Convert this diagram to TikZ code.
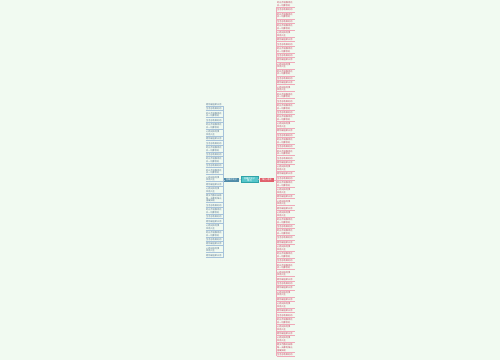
\documentclass[tikz,border=0pt]{standalone}
\usepackage{fontspec}
\setmainfont{Noto Sans CJK SC}
\usetikzlibrary{positioning}

\definecolor{bgmint}{HTML}{F1FAF1}
\definecolor{leafblue}{HTML}{4F6F8C}
\definecolor{lineblue}{HTML}{A6C2DA}
\definecolor{branchblue}{HTML}{4F8BA8}
\definecolor{rootteal}{HTML}{55C6CA}
\definecolor{rootedge}{HTML}{2FA3A8}
\definecolor{branchred}{HTML}{E0606C}
\definecolor{leafred}{HTML}{C23A58}
\definecolor{linepink}{HTML}{F0A8B8}

\newcommand\tinytext{\fontsize{2.2}{2.6}\selectfont}
\newcommand\leaftext[2]{%
  \ifcase#1\or
    \ifodd#2 愿你被温柔以待\else 生活总有美好的\fi
  \or
    \ifodd#2 时光不语静待花\\开一切都会好\else 心若向阳何惧\\风雨人生\fi
  \or
    愿岁月静好安稳\\每一天都有阳光\\温暖如初
  \fi}

\tikzset{
  leafl/.style={anchor=north west, text width=17pt, inner sep=0.4pt,
    align=left, text=leafblue, font=\tinytext},
  leafr/.style={anchor=north west, text width=17pt, inner sep=0.4pt,
    align=left, text=leafred, font=\tinytext},
  underl/.style={draw=lineblue, line width=0.45pt},
  underr/.style={draw=linepink, line width=0.45pt},
  rootbox/.style={fill=rootteal, draw=rootedge, line width=0.3pt,
    text=white, font=\fontsize{2.3}{2.6}\selectfont, align=center,
    minimum width=17pt, minimum height=6pt, inner sep=0.5pt},
  lbranchbox/.style={fill=branchblue, text=white,
    font=\fontsize{2.3}{2.6}\selectfont, minimum width=15pt,
    minimum height=4.5pt, inner sep=0.5pt},
  rbranchbox/.style={fill=branchred, text=white,
    font=\fontsize{2.3}{2.6}\selectfont, minimum width=14pt,
    minimum height=4.5pt, inner sep=0.5pt}
}

\begin{document}
\begin{tikzpicture}[x=1pt,y=-1pt]
    \fill[bgmint] (0,0) rectangle (500,360);
    \useasboundingbox (0,0) rectangle (500,360);

    % centre and the two branches
    \node[rootbox] (root) at (249.5,179.5) {温暖的句子\\精选};
    \node[lbranchbox] (lbranch) at (231.5,180) {温暖的句子};
    \node[rbranchbox] (rbranch) at (267,180) {暖心语录};
    \draw[underl] (root.west) -- (lbranch.east);
    \draw[underr] (root.east) -- (rbranch.west);

    % left leaves
    \xdef\ycur{103}
    \foreach \n [count=\i] in {1,1,2,1,2,2,1,1,2,1,2,1,2,2,1,2,3,1,2,1,1,2,2,1,1,2,1}{
        \node[leafl] (l\i) at (205.5,\ycur) {\leaftext{\n}{\i}};
        \draw[underl] (l\i.south west) -- (l\i.south east);
        \pgfmathsetmacro\ynext{\ycur+2.6*\n+1.8}
        \xdef\ycur{\ynext}
    }
    \draw[underl] (l1.south east) -- (l27.south east);
    \draw[underl] (lbranch.west) -- (lbranch.west -| l1.south east);

    % right leaves
    \xdef\ycur{1.5}
    \foreach \n [count=\i] in {2,1,2,1,2,2,1,1,2,1, 1,2,2,1,1,2,2,1,2,1,
        2,2,1,1,2,1,2,1,1,2, 1,1,2,2,1,2,1,2,2,1, 2,1,1,2,2,1,2,2,1,1,
        1,2,1,2,1,1,2,2,1,2, 3,1}{
        \node[leafr] (r\i) at (276.5,\ycur) {\leaftext{\n}{\i}};
        \draw[underr] (r\i.south west) -- (r\i.south east);
        \pgfmathsetmacro\ynext{\ycur+2.6*\n+1.8}
        \xdef\ycur{\ynext}
    }
    \draw[underr] (r1.south west) -- (r62.south west);
    \draw[underr] (rbranch.east) -- (rbranch.east -| r1.south west);
\end{tikzpicture}
\end{document}
